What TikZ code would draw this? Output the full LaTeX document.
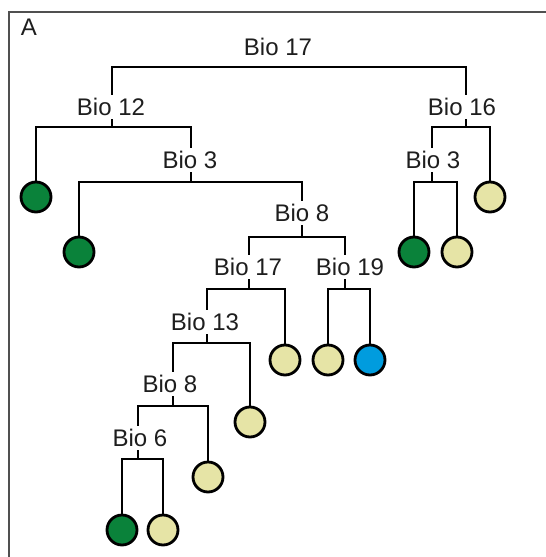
\documentclass[tikz,border=0pt]{standalone}
\usepackage{fontspec}
\setmainfont{Liberation Sans}
\usepackage{tikz}
\definecolor{leafgreen}{RGB}{10, 130, 58}
\definecolor{leafcream}{RGB}{230, 228, 166}
\definecolor{leafblue}{RGB}{0, 156, 222}
\definecolor{framegray}{RGB}{80, 80, 80}
\definecolor{textgray}{RGB}{30, 30, 30}
\tikzset{
  split/.style={text=textgray, inner sep=3pt, font=\fontsize{24}{28}\selectfont},
  leaf/.style={circle, draw=black, line width=2.8pt, minimum size=30pt, inner sep=0pt},
  branch/.style={draw=black, line width=2.6pt}
}
\begin{document}
\begin{tikzpicture}[x=1pt, y=-1pt]
            \useasboundingbox                                              (0, 0) rectangle (546, 557);
            \fill[white]                                                   (0, 0) rectangle (546, 557);
            \draw[framegray, line width=2.2pt]                             (9, 557) |- (546, 12);
            \node[split]                       (panel) at ( 29,  27) {A};
            % split labels
            \node[split]                       (b17)   at (278,  47) {Bio 17};
            \node[split]                       (b12)   at (111, 107) {Bio 12};
            \node[split]                       (b16)   at (462, 107) {Bio 16};
            \node[split]                       (b3a)   at (190, 160) {Bio 3};
            \node[split]                       (b3b)   at (433, 160) {Bio 3};
            \node[split]                       (b8a)   at (302, 213) {Bio 8};
            \node[split]                       (b17b)  at (248, 267) {Bio 17};
            \node[split]                       (b19)   at (350, 267) {Bio 19};
            \node[split]                       (b13)   at (205, 322) {Bio 13};
            \node[split]                       (b8b)   at (170, 384) {Bio 8};
            \node[split]                       (b6)    at (140, 438) {Bio 6};
            % junctions on the bars
            \coordinate (j17)  at (289,  67);
            \coordinate (j12)  at (112, 127);
            \coordinate (j16)  at (466, 127);
            \coordinate (j3a)  at (191, 182);
            \coordinate (j3b)  at (432, 182);
            \coordinate (j8a)  at (302, 237);
            \coordinate (j17b) at (249, 289);
            \coordinate (j19)  at (345, 289);
            \coordinate (j13)  at (207, 343);
            \coordinate (j8b)  at (173, 406);
            \coordinate (j6)   at (138, 459);
            % leaves
            \node[leaf, fill=leafgreen]        (c1)    at ( 36, 197) {};
            \node[leaf, fill=leafgreen]        (c2)    at ( 79, 252) {};
            \node[leaf, fill=leafcream]        (c3)    at (490, 197) {};
            \node[leaf, fill=leafgreen]        (c4)    at (414, 252) {};
            \node[leaf, fill=leafcream]        (c5)    at (457, 252) {};
            \node[leaf, fill=leafcream]        (c6)    at (285, 360) {};
            \node[leaf, fill=leafcream]        (c7)    at (328, 360) {};
            \node[leaf, fill=leafblue]         (c8)    at (370, 360) {};
            \node[leaf, fill=leafcream]        (c9)    at (250, 422) {};
            \node[leaf, fill=leafcream]        (c10)   at (208, 477) {};
            \node[leaf, fill=leafgreen]        (c11)   at (122, 530) {};
            \node[leaf, fill=leafcream]        (c12)   at (163, 530) {};
            % branches
            \draw[branch] (b12.north -| j12) |- (j17) -| (b16.north -| j16);
            \draw[branch] (b12.south -| j12) -- (j12);
            \draw[branch] (c1.north) |- (j12) -| (b3a.north -| j3a);
            \draw[branch] (b3a.south -| j3a) -- (j3a);
            \draw[branch] (c2.north) |- (j3a) -| (b8a.north -| j8a);
            \draw[branch] (b8a.south -| j8a) -- (j8a);
            \draw[branch] (b17b.north -| j17b) |- (j8a) -| (b19.north -| j19);
            \draw[branch] (b17b.south -| j17b) -- (j17b);
            \draw[branch] (b13.north -| j13) |- (j17b) -| (c6.north);
            \draw[branch] (b19.south -| j19) -- (j19);
            \draw[branch] (c7.north) |- (j19) -| (c8.north);
            \draw[branch] (b13.south -| j13) -- (j13);
            \draw[branch] (b8b.north -| j8b) |- (j13) -| (c9.north);
            \draw[branch] (b8b.south -| j8b) -- (j8b);
            \draw[branch] (b6.north -| j6) |- (j8b) -| (c10.north);
            \draw[branch] (b6.south -| j6) -- (j6);
            \draw[branch] (c11.north) |- (j6) -| (c12.north);
            \draw[branch] (b16.south -| j16) -- (j16);
            \draw[branch] (b3b.north -| j3b) |- (j16) -| (c3.north);
            \draw[branch] (b3b.south -| j3b) -- (j3b);
            \draw[branch] (c4.north) |- (j3b) -| (c5.north);
\end{tikzpicture}
\end{document}
